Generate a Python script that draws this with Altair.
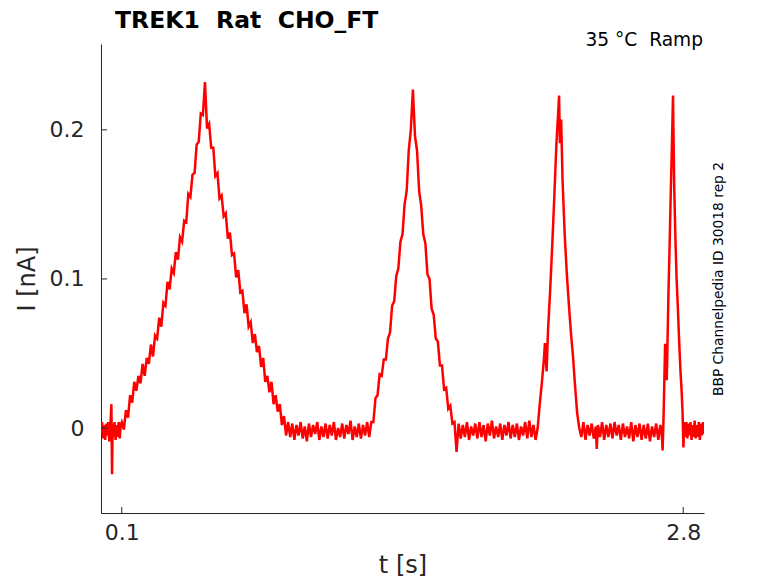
import altair as alt
import pandas as pd

# ---- trace: time t [s], current I [nA] ----
t_seg1 = [0.000, 0.005, 0.010, 0.015, 0.020, 0.025, 0.030, 0.035, 0.040, 0.045, 0.050, 0.053, 0.056,
          0.060, 0.065, 0.070, 0.075, 0.080, 0.085, 0.090, 0.095]
i_seg1 = [-0.003, 0.004, -0.007, 0.002, -0.008, 0.003, -0.005, 0.004, -0.009, 0.001, 0.016, -0.031, 0.003,
          -0.006, 0.004, -0.008, 0.002, -0.006, 0.004, -0.007, 0.002]

t_rise1 = [0.10, 0.11, 0.12, 0.13, 0.14, 0.15, 0.16, 0.17, 0.18, 0.19, 0.20, 0.21, 0.22, 0.23, 0.24, 0.25,
           0.26, 0.27, 0.28, 0.29, 0.30, 0.31, 0.32, 0.33, 0.34, 0.35, 0.36, 0.37, 0.38, 0.39, 0.40, 0.41,
           0.42, 0.43, 0.44, 0.45, 0.46, 0.47, 0.48, 0.49, 0.50]
i_rise1 = [0.004, -0.001, 0.012, 0.007, 0.022, 0.017, 0.031, 0.025, 0.035, 0.030, 0.043, 0.035, 0.047, 0.043,
           0.056, 0.048, 0.062, 0.060, 0.074, 0.068, 0.084, 0.082, 0.098, 0.093, 0.107, 0.104, 0.118, 0.113,
           0.128, 0.125, 0.139, 0.138, 0.157, 0.155, 0.170, 0.171, 0.190, 0.192, 0.211, 0.210, 0.232]

t_fall1 = [0.51, 0.52, 0.53, 0.54, 0.55, 0.56, 0.57, 0.58, 0.59, 0.60, 0.61, 0.62, 0.63, 0.64, 0.65, 0.66,
           0.67, 0.68, 0.69, 0.70, 0.71, 0.72, 0.73, 0.74, 0.75, 0.76, 0.77, 0.78, 0.79, 0.80, 0.81, 0.82,
           0.83, 0.84, 0.85, 0.86, 0.87, 0.88, 0.89, 0.90]
i_fall1 = [0.201, 0.204, 0.188, 0.188, 0.169, 0.171, 0.154, 0.156, 0.142, 0.144, 0.127, 0.131, 0.116, 0.117,
           0.101, 0.106, 0.091, 0.092, 0.077, 0.083, 0.068, 0.071, 0.057, 0.063, 0.051, 0.055, 0.041, 0.047,
           0.031, 0.035, 0.024, 0.031, 0.016, 0.022, 0.011, 0.016, 0.002, 0.008, -0.005, 0.004]

t_base2 = [0.91, 0.92, 0.93, 0.94, 0.95, 0.96, 0.97, 0.98, 0.99, 1.00, 1.01, 1.02, 1.03, 1.04, 1.05, 1.06,
           1.07, 1.08, 1.09, 1.10, 1.11, 1.12, 1.13, 1.14, 1.15, 1.16, 1.17, 1.18, 1.19, 1.20, 1.21, 1.22,
           1.23, 1.24, 1.25, 1.26, 1.27, 1.28, 1.29]
i_base2 = [-0.006, 0.003, -0.008, 0.002, -0.005, 0.004, -0.007, 0.001, -0.009, 0.003, -0.006, 0.002, -0.004,
           0.004, -0.008, 0.001, -0.006, 0.003, -0.007, 0.002, -0.005, 0.004, -0.008, 0.000, -0.006, 0.003,
           -0.007, 0.002, -0.004, 0.005, -0.008, 0.001, -0.006, 0.003, -0.007, 0.002, -0.005, 0.004, -0.006]

t_peak2 = [1.30, 1.31, 1.32, 1.33, 1.34, 1.35, 1.36, 1.37, 1.38, 1.39, 1.40, 1.41, 1.42, 1.43, 1.44, 1.45,
           1.46, 1.47, 1.48, 1.49, 1.50, 1.51, 1.52, 1.53, 1.54, 1.55, 1.56, 1.57, 1.58, 1.59, 1.60, 1.61,
           1.62, 1.63, 1.64, 1.65, 1.66, 1.67, 1.68, 1.69, 1.70, 1.71]
i_peak2 = [0.004, 0.004, 0.020, 0.022, 0.036, 0.035, 0.046, 0.046, 0.060, 0.064, 0.082, 0.085, 0.102, 0.107,
           0.125, 0.130, 0.150, 0.159, 0.186, 0.200, 0.227, 0.196, 0.186, 0.159, 0.149, 0.130, 0.124, 0.103,
           0.100, 0.080, 0.076, 0.060, 0.058, 0.042, 0.042, 0.026, 0.027, 0.013, 0.015, 0.003, 0.004, -0.016]

t_base3 = [1.72, 1.73, 1.74, 1.75, 1.76, 1.77, 1.78, 1.79, 1.80, 1.81, 1.82, 1.83, 1.84, 1.85, 1.86, 1.87,
           1.88, 1.89, 1.90, 1.91, 1.92, 1.93, 1.94, 1.95, 1.96, 1.97, 1.98, 1.99, 2.00, 2.01, 2.02, 2.03,
           2.04, 2.05, 2.06, 2.07, 2.08, 2.09]
i_base3 = [0.003, -0.007, 0.002, -0.006, 0.004, -0.008, 0.001, -0.005, 0.003, -0.007, 0.004, -0.006, 0.002,
           -0.009, 0.003, -0.005, 0.005, -0.007, 0.001, -0.006, 0.003, -0.008, 0.002, -0.005, 0.004, -0.007,
           0.002, -0.006, 0.003, -0.008, 0.001, -0.005, 0.004, -0.007, 0.005, -0.006, 0.002, -0.008]

t_peak3 = [2.10, 2.11, 2.12, 2.13, 2.135, 2.143, 2.15, 2.16, 2.17, 2.18, 2.19, 2.20, 2.203, 2.207, 2.213,
           2.22, 2.23, 2.24, 2.25, 2.26, 2.27, 2.28, 2.29, 2.30]
i_peak3 = [0.000, 0.016, 0.030, 0.046, 0.057, 0.038, 0.066, 0.092, 0.122, 0.155, 0.190, 0.215, 0.223, 0.191,
           0.207, 0.165, 0.130, 0.104, 0.083, 0.064, 0.048, 0.028, 0.010, 0.000]

t_base4 = [2.31, 2.32, 2.33, 2.34, 2.35, 2.36, 2.37, 2.38, 2.384, 2.39, 2.40, 2.41, 2.42, 2.43, 2.44, 2.45,
           2.46, 2.47, 2.48, 2.49, 2.50, 2.51, 2.52, 2.53, 2.54, 2.55, 2.56, 2.57, 2.58, 2.59, 2.60, 2.61,
           2.62, 2.63, 2.64, 2.65, 2.66, 2.67, 2.68, 2.69]
i_base4 = [-0.006, 0.004, -0.008, 0.002, -0.005, 0.003, -0.007, 0.001, -0.014, 0.002, -0.006, 0.004, -0.008,
           0.002, -0.006, 0.003, -0.007, 0.004, -0.005, 0.002, -0.008, 0.003, -0.006, 0.001, -0.007, 0.004,
           -0.009, 0.002, -0.006, 0.003, -0.008, 0.002, -0.007, 0.003, -0.009, 0.001, -0.006, 0.003, -0.008,
           0.002]

t_peak4 = [2.697, 2.701, 2.706, 2.713, 2.717, 2.721, 2.729, 2.735, 2.740, 2.746, 2.751, 2.753, 2.757, 2.762,
           2.768, 2.775, 2.781, 2.787, 2.793, 2.797, 2.801, 2.805]
i_peak4 = [-0.004, -0.015, 0.010, 0.0565, 0.045, 0.032, 0.090, 0.125, 0.157, 0.191, 0.223, 0.200, 0.160,
           0.130, 0.101, 0.078, 0.0565, 0.038, 0.023, 0.010, -0.013, 0.004]

t_base5 = [2.810, 2.815, 2.820, 2.825, 2.830, 2.835, 2.840, 2.845, 2.850, 2.855, 2.860, 2.865, 2.870, 2.875,
           2.880, 2.885, 2.890, 2.895, 2.900]
i_base5 = [-0.006, 0.004, -0.007, 0.003, -0.005, 0.004, -0.008, 0.002, -0.006, 0.005, -0.007, 0.002, -0.006,
           0.004, -0.008, 0.003, -0.005, 0.004, -0.004]

x_ticks = [0.1, 2.8]
y_ticks = [0.0, 0.1, 0.2]

title_text = ["TREK1\u00a0 Rat\u00a0 CHO_FT"]
condition_text = ["35 °C\u00a0 Ramp"]
source_text = ["BBP Channelpedia ID 30018 rep 2"]
x_title = "t [s]"
y_title = "I [nA]"

# ---- build table ----
t_all = t_seg1 + t_rise1 + t_fall1 + t_base2 + t_peak2 + t_base3 + t_peak3 + t_base4 + t_peak4 + t_base5
i_all = i_seg1 + i_rise1 + i_fall1 + i_base2 + i_peak2 + i_base3 + i_peak3 + i_base4 + i_peak4 + i_base5
trace = pd.DataFrame({"t": t_all, "I": i_all})

W, H = 603, 469
FONT = "DejaVu Sans"
AX = "#262626"

xs = alt.Scale(domain=[0, 2.9], nice=False, zero=False)
ys = alt.Scale(domain=[-0.057, 0.2576], nice=False, zero=False)

x_axis = alt.Axis(
    values=x_ticks, labelExpr="format(datum.value, '.1f')", title=x_title, grid=False,
    ticks=False, tickSize=0,
    labelPadding=9, labelFontSize=22, labelFont=FONT, labelColor=AX,
    titleFontSize=24, titleFont=FONT, titleColor=AX, titleFontWeight="normal", titlePadding=10,
    domainColor=AX, domainWidth=1)
y_axis = alt.Axis(
    values=y_ticks, labelExpr="datum.value == 0 ? '0' : format(datum.value, '.1f')", title=y_title,
    grid=False, ticks=False, tickSize=0,
    labelPadding=17, labelFontSize=22, labelFont=FONT, labelColor=AX,
    titleFontSize=24, titleFont=FONT, titleColor=AX, titleFontWeight="normal", titlePadding=10,
    domainColor=AX, domainWidth=1)

line = alt.Chart(trace).mark_line(color="#ff0000", strokeWidth=2.5, clip=True).encode(
    x=alt.X("t:Q", scale=xs, axis=x_axis),
    y=alt.Y("I:Q", scale=ys, axis=y_axis),
)

xtick = alt.Chart(pd.DataFrame({"t": x_ticks})).mark_rule(color=AX, strokeWidth=1).encode(
    x=alt.X("t:Q", scale=xs, axis=x_axis), y=alt.value(H), y2=alt.value(H - 6))
ytick = alt.Chart(pd.DataFrame({"I": y_ticks})).mark_rule(color=AX, strokeWidth=1).encode(
    y=alt.Y("I:Q", scale=ys, axis=y_axis), x=alt.value(0), x2=alt.value(6))

title = alt.Chart(pd.DataFrame({"s": title_text})).mark_text(
    align="left", baseline="alphabetic", font=FONT, fontSize=23.5, fontWeight="bold", color="#000000"
).encode(text="s:N", x=alt.value(14), y=alt.value(-16.5))

cond = alt.Chart(pd.DataFrame({"s": condition_text})).mark_text(
    align="right", baseline="alphabetic", font=FONT, fontSize=18.6, color="#000000"
).encode(text="s:N", x=alt.value(602), y=alt.value(2))

src = alt.Chart(pd.DataFrame({"s": source_text})).mark_text(
    align="center", baseline="middle", angle=270, font=FONT, fontSize=13.8, color="#000000"
).encode(text="s:N", x=alt.value(618), y=alt.value(235))

chart = alt.layer(line, xtick, ytick, title, cond, src).properties(
    width=W, height=H,
    autosize=alt.AutoSizeParams(type="none"),
    padding={"left": 93, "top": 36, "right": 66, "bottom": 70},
).configure_view(strokeWidth=0)

chart.save("out.html", embed_options={"renderer": "svg", "actions": False})
